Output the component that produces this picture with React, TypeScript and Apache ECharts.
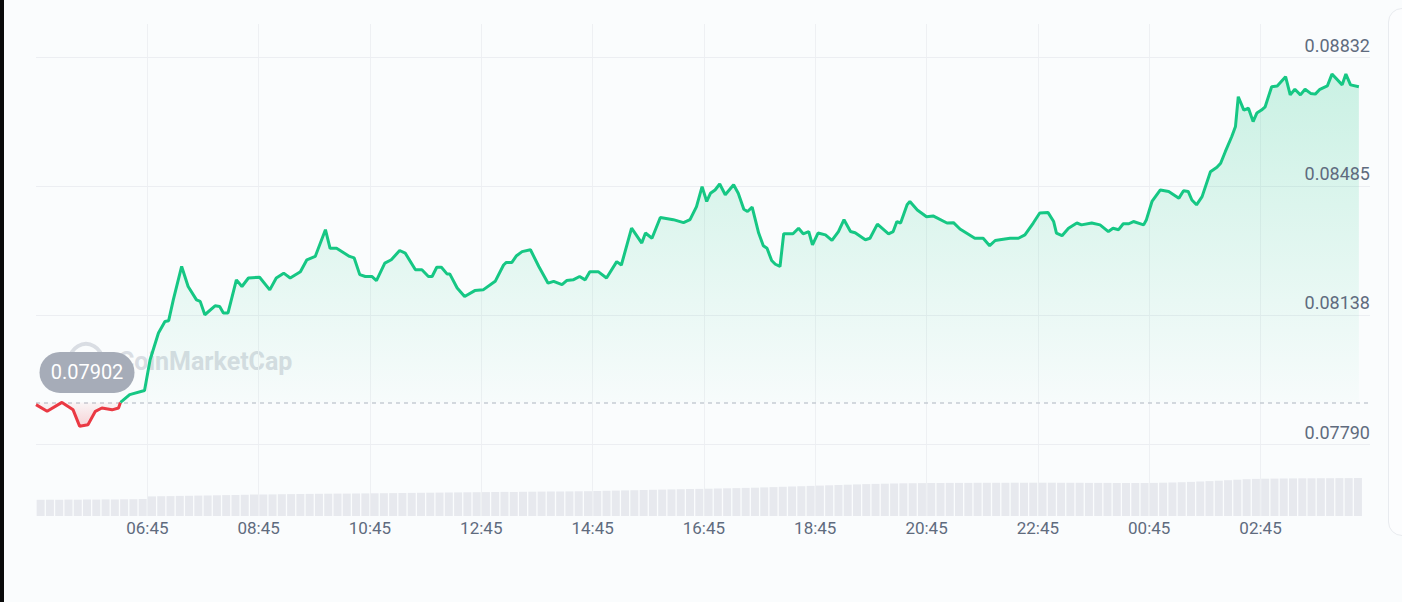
import React, { useEffect, useRef } from "react";
import * as echarts from "echarts";

// minutes since 04:45
const redTimes = [0, 12, 28, 40, 47, 56, 64, 71, 82, 89, 91];
const redPrices = [0.07896, 0.07878, 0.07902, 0.07882, 0.07838, 0.07842, 0.07878, 0.07887, 0.07882, 0.07887, 0.07902];

const greenTimes = [
  91, 93, 101, 117, 123, 132, 139, 143, 148, 157, 164, 173, 177, 182, 193, 198, 202, 207, 216, 222,
  229, 241, 252, 259, 267, 274, 285, 292, 301, 312, 317, 324, 338, 343, 349, 355, 362, 367, 376, 383,
  392, 398, 409, 416, 423, 427, 432, 437, 443, 446, 454, 462, 473, 482, 495, 504, 507, 513, 518, 524,
  533, 542, 552, 558, 567, 572, 579, 586, 592, 597, 606, 615, 626, 631, 642, 653, 657, 664, 673, 687,
  698, 705, 712, 718, 723, 727, 732, 737, 743, 752, 757, 763, 767, 772, 779, 784, 788, 793, 797, 802,
  806, 816, 822, 827, 833, 837, 843, 851, 858, 865, 871, 878, 883, 894, 899, 907, 919, 924, 928, 932,
  939, 942, 950, 960, 967, 982, 989, 996, 1012, 1021, 1028, 1034, 1039, 1050, 1059, 1066, 1075, 1082, 1091, 1097,
  1100, 1106, 1113, 1122, 1127, 1138, 1147, 1156, 1161, 1167, 1172, 1178, 1183, 1194, 1197, 1203, 1212, 1221, 1232, 1237,
  1242, 1246, 1251, 1257, 1266, 1273, 1277, 1282, 1289, 1293, 1296, 1302, 1307, 1312, 1316, 1321, 1325, 1332, 1338, 1347,
  1352, 1357, 1363, 1368, 1374, 1379, 1384, 1392, 1397, 1408, 1412, 1417, 1426,
];
const greenPrices = [
  0.07902, 0.07906, 0.07923, 0.07934, 0.08017, 0.08089, 0.0812, 0.08122, 0.08178, 0.08268, 0.08214, 0.08178, 0.08174, 0.08138, 0.08162, 0.0816, 0.08143, 0.08143, 0.08232, 0.08214,
  0.08237, 0.08239, 0.08205, 0.08237, 0.0825, 0.08237, 0.08254, 0.08286, 0.08295, 0.08367, 0.08317, 0.08317, 0.08295, 0.08291, 0.08246, 0.08241, 0.08241, 0.0823, 0.08277, 0.08286,
  0.08311, 0.08304, 0.08259, 0.08259, 0.08241, 0.08241, 0.08266, 0.08266, 0.08248, 0.08248, 0.0821, 0.08187, 0.08203, 0.08205, 0.08228, 0.08272, 0.08279, 0.08279, 0.08297, 0.08308,
  0.08313, 0.08268, 0.08223, 0.08228, 0.08219, 0.0823, 0.08232, 0.08241, 0.08232, 0.08254, 0.08254, 0.08237, 0.08281, 0.08272, 0.08371, 0.08331, 0.08358, 0.08344, 0.084, 0.08394,
  0.08386, 0.08394, 0.08429, 0.08483, 0.08443, 0.08465, 0.08474, 0.0849, 0.08461, 0.08488, 0.08465, 0.08422, 0.08416, 0.08428, 0.08358, 0.08324, 0.08317, 0.08284, 0.08274, 0.08268,
  0.08356, 0.08356, 0.08371, 0.08356, 0.08362, 0.08326, 0.08358, 0.08353, 0.08338, 0.08362, 0.08394, 0.08362, 0.08359, 0.0834, 0.08344, 0.08382, 0.08356, 0.08362, 0.08389, 0.08385,
  0.08434, 0.08443, 0.0842, 0.08402, 0.08404, 0.08385, 0.08386, 0.08369, 0.08344, 0.08344, 0.08324, 0.08338, 0.0834, 0.08344, 0.08344, 0.08353, 0.08385, 0.08412, 0.08413, 0.08389,
  0.08358, 0.08351, 0.08371, 0.08385, 0.0838, 0.08385, 0.0838, 0.08362, 0.08371, 0.08367, 0.08383, 0.08383, 0.08389, 0.0838, 0.08394, 0.08443, 0.08474, 0.0847, 0.08452, 0.08472,
  0.0847, 0.08447, 0.08434, 0.08456, 0.08523, 0.08535, 0.08546, 0.08577, 0.08618, 0.08645, 0.08725, 0.08689, 0.08694, 0.08658, 0.08681, 0.08689, 0.08698, 0.08752, 0.08754, 0.08779,
  0.0873, 0.08745, 0.0873, 0.08745, 0.08734, 0.08732, 0.08745, 0.08754, 0.08786, 0.08757, 0.08786, 0.08757, 0.08752,
];

// 10-minute volume buckets (relative units)
const volumes = [
  16.2, 16.3, 16.2, 16.4, 16.3, 16.5, 16.4, 16.6, 16.5, 16.7, 16.8, 17.0,
  19.6, 19.8, 19.9, 20.1, 20.2, 20.4, 20.5, 20.7, 20.9, 21.0, 21.2, 21.4,
  21.5, 21.6, 21.8, 21.9, 22.0, 22.1, 22.2, 22.3, 22.4, 22.4, 22.5, 22.6,
  22.7, 22.8, 22.9, 23.0, 23.1, 23.2, 23.3, 23.4, 23.5, 23.6, 23.7, 23.8,
  23.9, 24.0, 24.1, 24.1, 24.2, 24.3, 24.4, 24.5, 24.5, 24.6, 24.7, 24.8,
  25.0, 25.2, 25.4, 25.6, 25.8, 26.0, 26.2, 26.4, 26.6, 26.8, 27.0, 27.1,
  27.3, 27.5, 27.7, 27.9, 28.1, 28.3, 28.6, 28.9, 29.2, 29.5, 29.8, 30.1,
  30.4, 30.7, 31.0, 31.3, 31.6, 31.9, 32.1, 32.3, 32.5, 32.7, 32.8, 32.9,
  33.0, 33.0, 33.1, 33.1, 33.1, 33.2, 33.2, 33.2, 33.2, 33.3, 33.3, 33.3,
  33.3, 33.3, 33.2, 33.2, 33.2, 33.1, 33.1, 33.1, 33.0, 33.0, 33.0, 33.0,
  33.1, 33.3, 33.5, 33.8, 34.1, 34.5, 34.9, 35.3, 35.8, 36.3, 36.8, 37.1,
  37.3, 37.4, 37.5, 37.6, 37.7, 37.7, 37.8, 37.8, 37.9, 37.9, 38.0,
];

const xTickLabels = ["06:45", "08:45", "10:45", "12:45", "14:45", "16:45", "18:45", "20:45", "22:45", "00:45", "02:45"];
const yTicks = [0.0779, 0.08138, 0.08485, 0.08832];
const yTickLabels = ["0.07790", "0.08138", "0.08485", "0.08832"];
const baseline = 0.07902;
const baselineLabel = "0.07902";

const FONT = "Roboto, 'Noto Sans', sans-serif";
const LABEL_COLOR = "#5f6b7e";

export default function App() {
  const ref = useRef<HTMLDivElement>(null);

  useEffect(() => {
    document.body.style.margin = "0";
    document.body.style.background = "#fafcfd";
    if (!ref.current) return;
    const chart = echarts.init(ref.current, null, { renderer: "svg" });

    const redData = redTimes.map((t, i) => [t, redPrices[i]]);
    const greenData = greenTimes.map((t, i) => [t, greenPrices[i]]);
    const volData = volumes.map((v, i) => [i * 10 + 5, v]);

    const option: any = {
      animation: false,
      backgroundColor: "transparent",
      textStyle: { fontFamily: FONT },
      graphic: [
        {
          type: "circle",
          z: 0,
          shape: { cx: 86, cy: 360, r: 16 },
          style: { fill: "none", stroke: "#d9dde3", lineWidth: 4 },
        },
        {
          type: "text",
          z: 0,
          x: 118,
          y: 361,
          style: {
            text: "CoinMarketCap",
            font: "bold 25px Roboto",
            fill: "#d9dde3",
            verticalAlign: "middle",
          },
        },
      ],
      grid: [
        { left: 36, right: 32, top: 57, bottom: 158 },
        { left: 36, right: 32, top: 24, bottom: 86 },
      ],
      xAxis: [
        { type: "value", gridIndex: 0, min: 0, max: 1438, show: false },
        {
          type: "value",
          gridIndex: 1,
          min: 0,
          max: 1438,
          interval: 120,
          axisLine: { show: false },
          axisTick: { show: false },
          splitLine: {
            show: true,
            showMinLine: false,
            showMaxLine: false,
            lineStyle: { color: "#eef0f3", width: 1 },
          },
          axisLabel: {
            showMinLabel: false,
            showMaxLabel: false,
            color: LABEL_COLOR,
            fontSize: 17,
            fontFamily: FONT,
            margin: 3,
            formatter: (v: number) => xTickLabels[Math.round(v / 120) - 1] ?? "",
          },
        },
      ],
      yAxis: [
        { type: "value", gridIndex: 0, min: 0.0779, max: 0.08832, show: false },
        { type: "value", gridIndex: 1, min: 0, max: 492, show: false },
      ],
      series: [
        {
          type: "bar",
          xAxisIndex: 1,
          yAxisIndex: 1,
          data: volData,
          barWidth: 8,
          itemStyle: { color: "#e7e9ee" },
          silent: true,
          z: 1,
        },
        {
          type: "line",
          xAxisIndex: 0,
          yAxisIndex: 0,
          data: [[0, baseline]],
          showSymbol: false,
          symbol: "none",
          lineStyle: { opacity: 0 },
          silent: true,
          z: 1,
          markLine: {
            silent: true,
            z: 1,
            precision: 6,
            symbol: ["none", "none"],
            label: { show: false },
            data: [
              ...yTicks.map((v) => ({
                yAxis: v,
                lineStyle: { color: "#eceef2", width: 1, type: "solid" },
              })),
              {
                yAxis: baseline,
                lineStyle: { color: "#c6cbd3", width: 1.5, type: [4, 4] },
              },
            ],
          },
        },
        {
          type: "line",
          xAxisIndex: 0,
          yAxisIndex: 0,
          data: redData,
          showSymbol: false,
          symbol: "none",
          z: 3,
          lineStyle: { color: "#ea3943", width: 3 },
          areaStyle: {
            origin: baseline,
            color: new echarts.graphic.LinearGradient(0, 0, 0, 1, [
              { offset: 0, color: "rgba(234,57,67,0.05)" },
              { offset: 1, color: "rgba(234,57,67,0.3)" },
            ]),
          },
          markPoint: {
            silent: true,
            z: 6,
            precision: 6,
            symbol:
              "path://M20.5,0 H74.5 A20.5,20.5 0 0 1 74.5,41 H20.5 A20.5,20.5 0 0 1 20.5,0 Z",
            symbolSize: [95, 41],
            symbolOffset: [51, -30],
            itemStyle: { color: "#a6acb8" },
            label: {
              show: true,
              position: "inside",
              color: "#ffffff",
              fontSize: 20,
              fontFamily: FONT,
              formatter: baselineLabel,
            },
            data: [{ coord: [0, baseline], value: baseline }],
          },
        },
        {
          type: "line",
          xAxisIndex: 0,
          yAxisIndex: 0,
          data: greenData,
          showSymbol: false,
          symbol: "none",
          z: 3,
          lineStyle: { color: "#16c784", width: 3 },
          areaStyle: {
            origin: baseline,
            color: new echarts.graphic.LinearGradient(0, 0, 0, 1, [
              { offset: 0, color: "rgba(22,199,132,0.30)" },
              { offset: 1, color: "rgba(22,199,132,0.02)" },
            ]),
          },
        },
        {
          type: "line",
          xAxisIndex: 0,
          yAxisIndex: 0,
          data: [[0, baseline]],
          showSymbol: false,
          symbol: "none",
          lineStyle: { opacity: 0 },
          silent: true,
          z: 10,
          markLine: {
            silent: true,
            z: 10,
            precision: 6,
            symbol: ["none", "none"],
            lineStyle: { color: "rgba(0,0,0,0)", width: 1, opacity: 1 },
            data: yTicks.map((v, i) => ({
              yAxis: v,
              label: {
                show: true,
                position: "insideEndTop",
                distance: [0, 3],
                color: LABEL_COLOR,
                opacity: 1,
                fontSize: 18,
                fontFamily: FONT,
                formatter: yTickLabels[i],
              },
            })),
          },
        },
      ],
    };

    chart.setOption(option);
    return () => chart.dispose();
  }, []);

  return (
    <div style={{ position: "relative", width: 1402, height: 602, background: "#fafcfd", overflow: "hidden" }}>
      <div style={{ position: "absolute", left: 0, top: 0, width: 4, height: 602, background: "#0a0a0a" }} />
      <div
        style={{
          position: "absolute",
          left: 1388,
          top: 8,
          width: 60,
          height: 526,
          border: "1px solid #e8ebef",
          borderRadius: 14,
          background: "#fcfdfe",
        }}
      />
      <div ref={ref} style={{ position: "absolute", left: 0, top: 0, width: 1402, height: 602 }} />
    </div>
  );
}
